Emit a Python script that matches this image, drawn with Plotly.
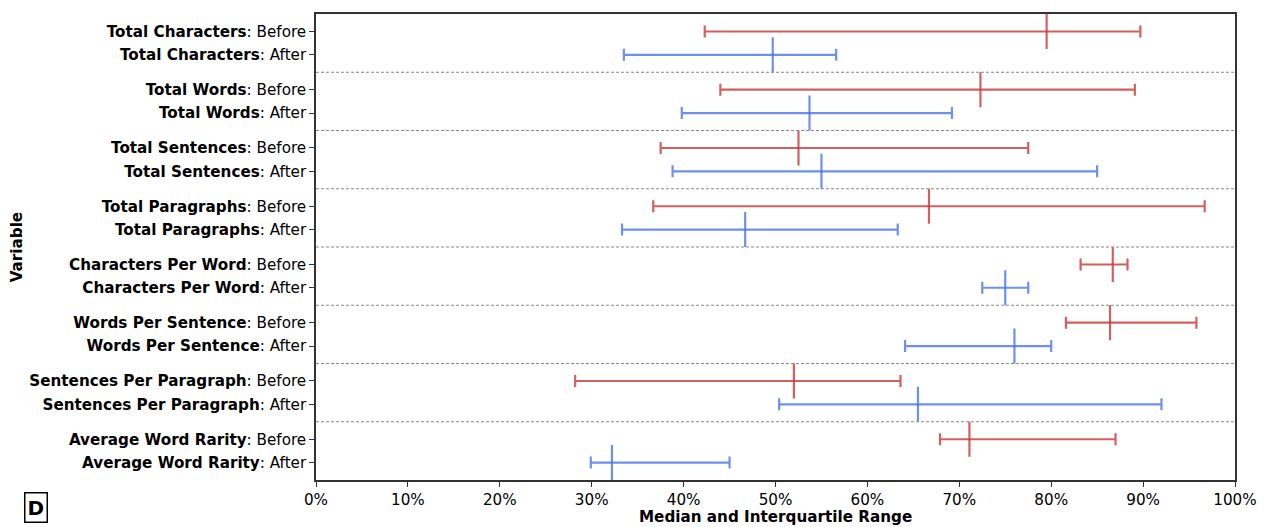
import plotly.graph_objects as go

variables = ["Total Characters", "Total Words", "Total Sentences", "Total Paragraphs",
             "Characters Per Word", "Words Per Sentence", "Sentences Per Paragraph",
             "Average Word Rarity"]

before_low = [42.3, 44.0, 37.5, 36.7, 83.2, 81.6, 28.2, 67.9]
before_med = [79.5, 72.3, 52.5, 66.7, 86.7, 86.4, 52.0, 71.1]
before_high = [89.7, 89.1, 77.5, 96.7, 88.3, 95.8, 63.6, 87.0]

after_low = [33.5, 39.8, 38.8, 33.3, 72.5, 64.1, 50.4, 29.9]
after_med = [49.7, 53.7, 55.0, 46.7, 75.0, 76.0, 65.5, 32.2]
after_high = [56.6, 69.2, 85.0, 63.3, 77.5, 80.0, 92.0, 45.0]

x_ticks = [0, 10, 20, 30, 40, 50, 60, 70, 80, 90, 100]

RED = "rgba(200,55,55,0.8)"
BLUE = "rgba(75,115,235,0.8)"
FONT = "DejaVu Sans"
FS = 15.2

n = len(variables)
y_before = [i - 0.2 for i in range(n)]
y_after = [i + 0.2 for i in range(n)]

def trace(y, low, med, high, color):
    med_f = [m / 100 for m in med]
    plus = [(h - m) / 100 for h, m in zip(high, med)]
    minus = [(m - l) / 100 for m, l in zip(med, low)]
    return go.Scatter(
        x=med_f, y=y, mode="markers",
        marker=dict(symbol="line-ns", size=25, line=dict(width=2.2, color=color), color=color),
        error_x=dict(type="data", symmetric=False, array=plus, arrayminus=minus,
                     color=color, thickness=2.2, width=6),
        showlegend=False, hoverinfo="skip",
    )

fig = go.Figure()
fig.add_trace(trace(y_before, before_low, before_med, before_high, RED))
fig.add_trace(trace(y_after, after_low, after_med, after_high, BLUE))

tickvals = []
ticktext = []
for i, v in enumerate(variables):
    tickvals += [y_before[i], y_after[i]]
    ticktext += [f"<b>{v}</b>: Before", f"<b>{v}</b>: After"]

shapes = []
for i in range(n - 1):
    shapes.append(dict(type="line", xref="paper", yref="y", x0=0, x1=1, y0=i + 0.5, y1=i + 0.5,
                       line=dict(color="#888888", width=1, dash="3px,2px")))

fig.update_layout(
    width=1269, height=527,
    margin=dict(l=316, r=31, t=12, b=47),
    plot_bgcolor="white", paper_bgcolor="white",
    font=dict(family=FONT, size=FS, color="black"),
    shapes=shapes,
    xaxis=dict(range=[0, 1], tickvals=[t / 100 for t in x_ticks],
               ticktext=[f"{t}%" for t in x_ticks],
               showgrid=False, zeroline=False, showline=True, linecolor="#333333", linewidth=1.5,
               mirror=True, ticks="outside", ticklen=5, tickwidth=1.2, tickcolor="#333333",
               tickfont=dict(size=FS)),
    yaxis=dict(range=[n - 0.5, -0.5], tickvals=tickvals, ticktext=ticktext,
               showgrid=False, zeroline=False, showline=True, linecolor="#333333", linewidth=1.5,
               mirror=True, ticks="outside", ticklen=5, tickwidth=1.2, tickcolor="#333333",
               tickfont=dict(size=FS)),
    annotations=[
        dict(text="<b>Variable</b>", xref="paper", yref="paper", x=-0.325, y=0.5,
             textangle=-90, showarrow=False, font=dict(size=FS), xanchor="center", yanchor="middle"),
        dict(text="<b>Median and Interquartile Range</b>", xref="paper", yref="paper",
             x=0.5, y=-0.079, showarrow=False, font=dict(size=FS), xanchor="center", yanchor="middle"),
        dict(text="<b>D</b>", xref="paper", yref="paper", x=-0.3045, y=-0.058, showarrow=False,
             font=dict(size=20), xanchor="center", yanchor="middle",
             bordercolor="black", borderwidth=1.5, borderpad=2, bgcolor="white"),
    ],
)

fig.write_html("out.html", config={"displayModeBar": False},
               post_script="document.body.style.margin='0';")
